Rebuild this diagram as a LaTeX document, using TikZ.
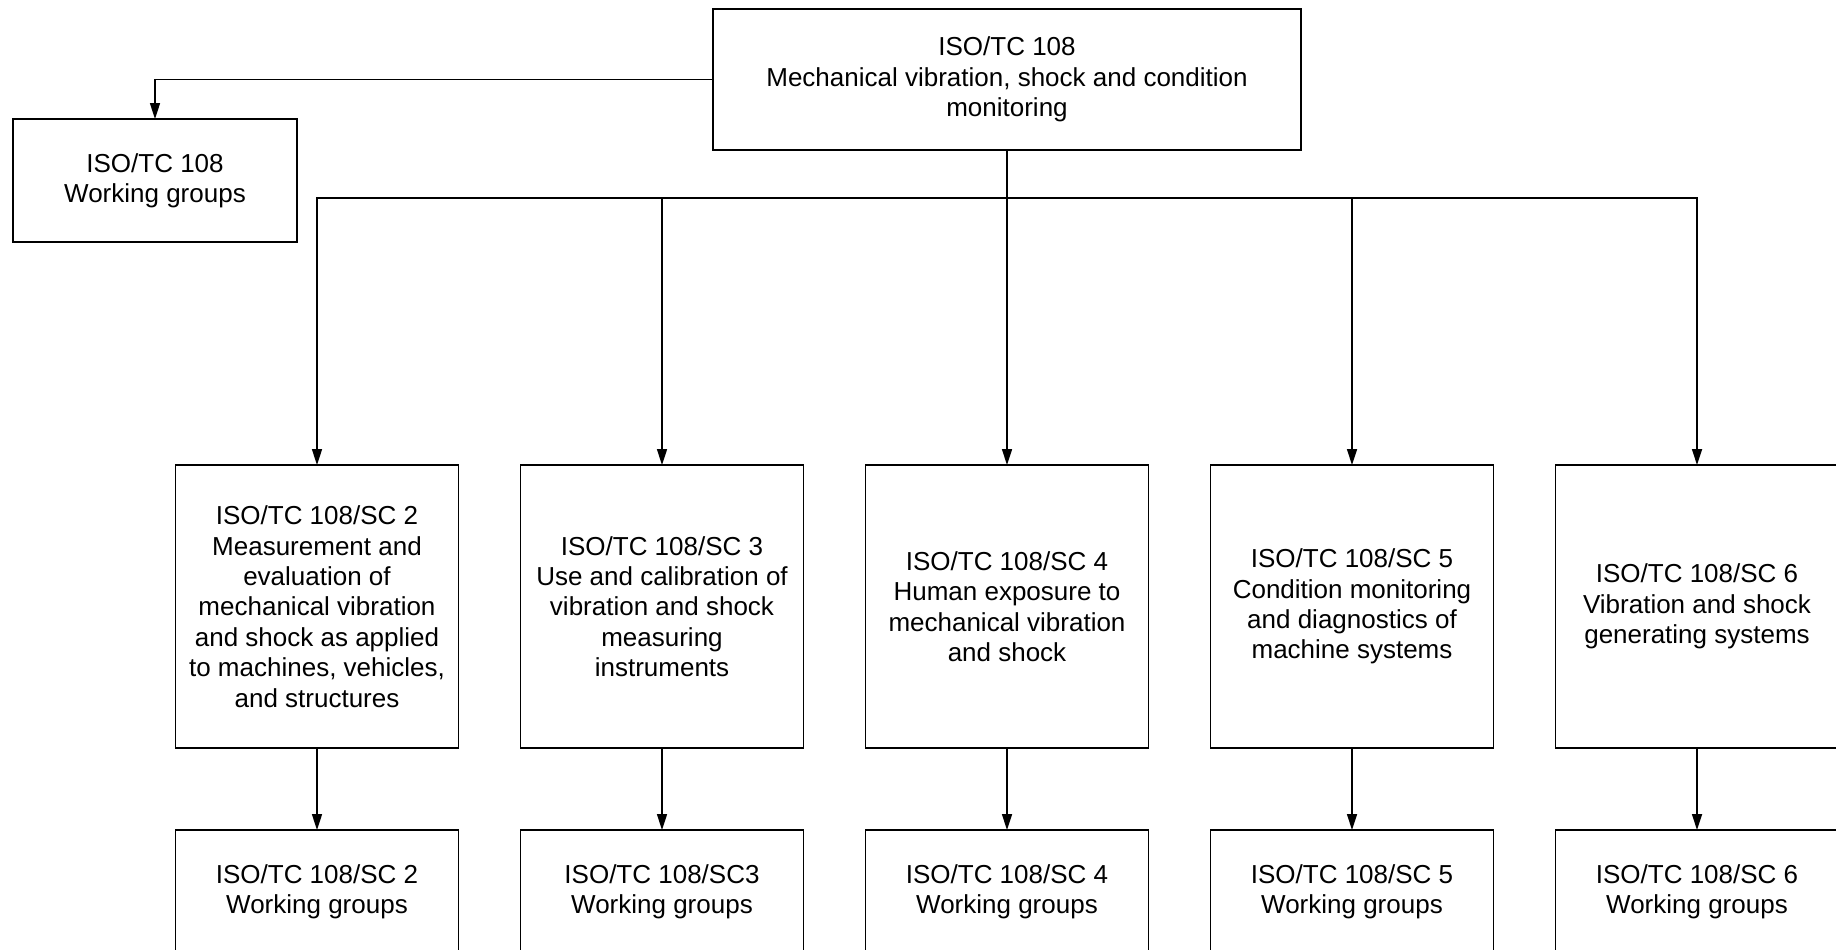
\documentclass[tikz,border=0pt]{standalone}
\usepackage{fontspec}
\setmainfont{Liberation Sans}
\usetikzlibrary{arrows.meta, positioning}
\tikzstyle{base} = [rectangle, draw=black, line width=0.8pt, outer sep=0pt, inner sep=0pt,
align=center, font=\fontsize{13pt}{15.2pt}\selectfont]
\tikzstyle{tcbox} = [base, minimum width=294pt, minimum height=70.5pt]
\tikzstyle{scbox} = [base, minimum width=141.5pt, minimum height=141.5pt]
\tikzstyle{wgbox} = [base, minimum width=141.5pt, minimum height=61.5pt]
\tikzstyle{arrow} = [line width=0.8pt,->,>={Triangle[length=8pt,width=5pt]}]

\begin{document}
\begin{tikzpicture}[node distance=31pt]
  \useasboundingbox (0,0) rectangle (918pt,-474.5pt);
  \clip (0,0) rectangle (918pt,-474.5pt);

  \node (tc) [tcbox] at (503.5pt,-39.75pt) {ISO/TC 108\\Mechanical vibration, shock and condition\\monitoring};
  \node (wg0) [wgbox, minimum width=142pt] at (77.5pt,-90.25pt) {ISO/TC 108\\Working groups};

  \node (sc4) [scbox, below=157.5pt of tc] {ISO/TC 108/SC 4\\Human exposure to\\mechanical vibration\\and shock};
  \node (sc3) [scbox, left=of sc4] {ISO/TC 108/SC 3\\Use and calibration of\\vibration and shock\\measuring\\instruments};
  \node (sc2) [scbox, left=of sc3] {ISO/TC 108/SC 2\\Measurement and\\evaluation of\\mechanical vibration\\and shock as applied\\to machines, vehicles,\\and structures};
  \node (sc5) [scbox, right=of sc4] {ISO/TC 108/SC 5\\Condition monitoring\\and diagnostics of\\machine systems};
  \node (sc6) [scbox, right=of sc5] {ISO/TC 108/SC 6\\Vibration and shock\\generating systems};

  \node (wg2) [wgbox, below=41pt of sc2] {ISO/TC 108/SC 2\\Working groups};
  \node (wg3) [wgbox, below=41pt of sc3] {ISO/TC 108/SC3\\Working groups};
  \node (wg4) [wgbox, below=41pt of sc4] {ISO/TC 108/SC 4\\Working groups};
  \node (wg5) [wgbox, below=41pt of sc5] {ISO/TC 108/SC 5\\Working groups};
  \node (wg6) [wgbox, below=41pt of sc6] {ISO/TC 108/SC 6\\Working groups};

  \draw [arrow] (tc.west) -| (wg0.north);
  \draw [arrow] (tc.south) -- ++(0,-24pt) -| (sc2.north);
  \draw [arrow] (tc.south) -- ++(0,-24pt) -| (sc3.north);
  \draw [arrow] (tc.south) -- ++(0,-24pt) -| (sc4.north);
  \draw [arrow] (tc.south) -- ++(0,-24pt) -| (sc5.north);
  \draw [arrow] (tc.south) -- ++(0,-24pt) -| (sc6.north);
  \draw [arrow] (sc2) -- (wg2);
  \draw [arrow] (sc3) -- (wg3);
  \draw [arrow] (sc4) -- (wg4);
  \draw [arrow] (sc5) -- (wg5);
  \draw [arrow] (sc6) -- (wg6);
\end{tikzpicture}
\end{document}
